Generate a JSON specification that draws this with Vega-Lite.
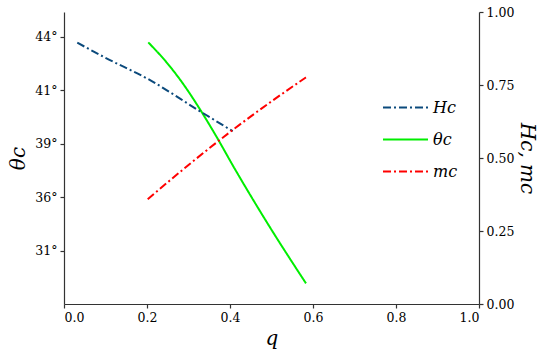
{
  "$schema": "https://vega.github.io/schema/vega-lite/v6.json",
  "width": 415,
  "height": 292,
  "autosize": {"type": "none"},
  "padding": {"left": 64, "top": 12, "right": 71, "bottom": 49},
  "background": "white",
  "config": {
    "view": {"stroke": null},
    "font": "DejaVu Serif",
    "axis": {
      "grid": false,
      "domainColor": "#333333",
      "tickColor": "#333333",
      "tickWidth": 1.2,
      "domainWidth": 1.2,
      "labelFont": "DejaVu Serif",
      "labelFontSize": 12.5,
      "labelColor": "#000000",
      "titleFont": "DejaVu Serif",
      "titleFontStyle": "italic",
      "titleFontWeight": "normal",
      "titleFontSize": 20,
      "titleColor": "#000000",
      "tickSize": 4,
      "labelPadding": 3
    },
    "legend": {
      "labelFont": "DejaVu Serif",
      "labelFontStyle": "italic",
      "labelFontSize": 16,
      "labelColor": "#000000"
    }
  },
  "data": {
    "values": [
      {"series": "θc", "q": 0.2031, "value": 43.67},
      {"series": "θc", "q": 0.2475, "value": 42.54},
      {"series": "θc", "q": 0.2875, "value": 41.33},
      {"series": "θc", "q": 0.3198, "value": 40.47},
      {"series": "θc", "q": 0.368, "value": 39.24},
      {"series": "θc", "q": 0.412, "value": 37.56},
      {"series": "θc", "q": 0.4643, "value": 35.19},
      {"series": "θc", "q": 0.5043, "value": 32.67},
      {"series": "θc", "q": 0.5446, "value": 30.22},
      {"series": "θc", "q": 0.5831, "value": 27.93},
      {"series": "Hc", "q": 0.032, "value": 0.895},
      {"series": "Hc", "q": 0.1, "value": 0.843},
      {"series": "Hc", "q": 0.203, "value": 0.77},
      {"series": "Hc", "q": 0.3277, "value": 0.66},
      {"series": "Hc", "q": 0.4065, "value": 0.592},
      {"series": "mc", "q": 0.2017, "value": 0.359},
      {"series": "mc", "q": 0.3, "value": 0.476},
      {"series": "mc", "q": 0.4065, "value": 0.596},
      {"series": "mc", "q": 0.5, "value": 0.694},
      {"series": "mc", "q": 0.583, "value": 0.776}
    ]
  },
  "encoding": {
    "x": {
      "field": "q",
      "type": "quantitative",
      "scale": {"domain": [0, 1], "nice": false},
      "axis": {"values": [0, 0.2, 0.4, 0.6, 0.8, 1], "format": ".1f", "title": "q", "titlePadding": 5}
    },
    "color": {
      "field": "series",
      "type": "nominal",
      "scale": {"domain": ["Hc", "θc", "mc"], "range": ["#0b4a7c", "#00ee00", "#ff0000"]},
      "legend": {
        "title": null,
        "orient": "none",
        "legendX": 318,
        "legendY": 72,
        "symbolType": "stroke",
        "symbolSize": 2025,
        "symbolStrokeWidth": 2,
        "rowPadding": -25
      }
    },
    "strokeDash": {
      "field": "series",
      "type": "nominal",
      "scale": {"domain": ["Hc", "θc", "mc"], "range": [[8, 3, 2, 3], [1, 0], [8, 3, 2, 3]]},
      "legend": {
        "title": null,
        "orient": "none",
        "legendX": 318,
        "legendY": 72,
        "symbolType": "stroke",
        "symbolSize": 2025,
        "symbolStrokeWidth": 2,
        "rowPadding": -25
      }
    }
  },
  "layer": [
    {
      "transform": [{"filter": "datum.series == 'θc'"}],
      "mark": {"type": "line", "strokeWidth": 2, "interpolate": "monotone"},
      "encoding": {
        "y": {
          "field": "value",
          "type": "quantitative",
          "scale": {"domain": [26, 31, 36, 39, 41, 44, 45.37], "range": [292, 238.5, 185, 131.5, 78, 24.5, 0]},
          "axis": {"orient": "left", "values": [31, 36, 39, 41, 44], "labelExpr": "datum.value + '°'", "title": "θc", "titlePadding": 6}
        }
      }
    },
    {
      "transform": [{"filter": "datum.series != 'θc'"}],
      "mark": {"type": "line", "strokeWidth": 2, "interpolate": "monotone"},
      "encoding": {
        "y": {
          "field": "value",
          "type": "quantitative",
          "scale": {"domain": [0, 1], "nice": false},
          "axis": {"orient": "right", "values": [0, 0.25, 0.5, 0.75, 1], "format": ".2f", "title": "Hc, mc", "titlePadding": 3}
        }
      }
    }
  ],
  "resolve": {"scale": {"y": "independent"}}
}
